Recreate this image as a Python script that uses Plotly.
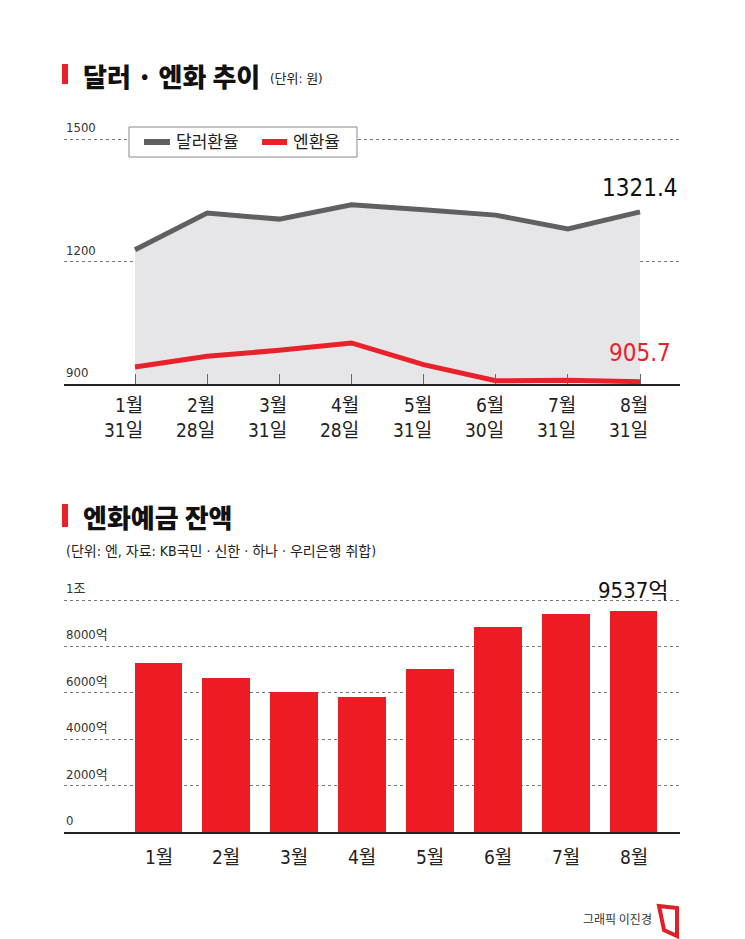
import plotly.graph_objects as go

# ---------------- data ----------------
months_top = ["1월<br>31일", "2월<br>28일", "3월<br>31일", "4월<br>28일",
              "5월<br>31일", "6월<br>30일", "7월<br>31일", "8월<br>31일"]
usd_krw = [1228.6, 1318.5, 1303.8, 1339.0, 1326.7, 1313.6, 1280.0, 1321.4]
jpy_krw = [941.7, 967.9, 982.6, 1000.6, 947.4, 908.0, 909.0, 905.7]

months_bottom = ["1월", "2월", "3월", "4월", "5월", "6월", "7월", "8월"]
yen_deposit = [7270, 6620, 6034, 5806, 7013, 8850, 9410, 9537]  # 억 엔

top_ticks = [900, 1200, 1500]
top_tick_text = ["900", "1200", "1500"]
bot_ticks = [0, 2000, 4000, 6000, 8000, 10000]
bot_tick_text = ["0", "2000억", "4000억", "6000억", "8000억", "1조"]

# ---------------- helpers ----------------
OFF = 8  # page body margin
W, H = 745 - OFF, 939 - OFF
def px(x): return (x - OFF) / W
def py(y): return 1 - (y - OFF) / H

NARROW = "DejaVu Sans Condensed, Noto Sans CJK KR, sans-serif"
KR = "Noto Sans CJK KR, sans-serif"
RED = "#e8212a"
GRAY = "#606060"

xt = list(range(len(usd_krw)))
xb = list(range(len(yen_deposit)))

fig = go.Figure()

fig.add_trace(go.Scatter(x=xt, y=usd_krw, mode="lines", line=dict(width=0),
                         fill="tozeroy", fillcolor="#e6e6e9", hoverinfo="skip",
                         showlegend=False, xaxis="x", yaxis="y"))
fig.add_trace(go.Scatter(x=xt, y=usd_krw, mode="lines", name="달러환율",
                         line=dict(color=GRAY, width=5), showlegend=False,
                         xaxis="x", yaxis="y"))
fig.add_trace(go.Scatter(x=xt, y=jpy_krw, mode="lines", name="엔환율",
                         line=dict(color=RED, width=5), showlegend=False,
                         xaxis="x", yaxis="y"))

fig.add_trace(go.Bar(x=xb, y=yen_deposit, marker=dict(color="#ed1c24", line=dict(width=0)),
                     width=0.707, showlegend=False, xaxis="x2", yaxis="y2"))

k_top = (384 - 139) / 600.0
top_range = [900, 1520]
top_dom = [py(384), py(384 - (top_range[1] - 900) * k_top)]
k_bot = (832 - 600) / 10000.0
bot_range = [0, 10300]
bot_dom = [py(832), py(832 - bot_range[1] * k_bot)]

x_left, x_right = 64, 680
sp_t = (640 - 135) / 7.0
sp_b = (633.5 - 158.5) / 7.0

fig.update_layout(
    width=W, height=H, margin=dict(l=0, r=0, t=0, b=0),
    paper_bgcolor="white", plot_bgcolor="rgba(0,0,0,0)",
    bargap=0,
    xaxis=dict(domain=[px(x_left), px(x_right)],
               range=[-(135 - x_left) / sp_t, 7 + (x_right - 640) / sp_t],
               showgrid=False, zeroline=False, showline=True, linecolor="#222", linewidth=1.5,
               ticks="inside", ticklen=10, tickcolor="#666", tickwidth=1,
               tickvals=xt, showticklabels=False, anchor="y"),
    yaxis=dict(domain=top_dom, range=top_range, tickvals=[1200, 1500],
               showgrid=True, gridcolor="#777", griddash="dot", gridwidth=1,
               zeroline=False, showticklabels=False, showline=False, anchor="x"),
    xaxis2=dict(domain=[px(x_left), px(x_right)],
                range=[-(158.5 - x_left) / sp_b, 7 + (x_right - 633.5) / sp_b],
                showgrid=False, zeroline=False, showline=True, linecolor="#222", linewidth=1.5,
                ticks="", tickvals=xb, showticklabels=False, anchor="y2"),
    yaxis2=dict(domain=bot_dom, range=bot_range, tickvals=bot_ticks[1:],
                showgrid=True, gridcolor="#777", griddash="dot", gridwidth=1,
                zeroline=False, showticklabels=False, showline=False, anchor="x2"),
)

ann = []
shapes = []

# ---- titles ----
shapes.append(dict(type="rect", xref="paper", yref="paper", x0=px(62), x1=px(68),
                   y0=py(84), y1=py(64), fillcolor=RED, line=dict(width=0)))
ann.append(dict(xref="paper", yref="paper", x=px(81), y=py(75), xanchor="left", yanchor="middle",
                text="달러 · 엔화 추이", showarrow=False,
                font=dict(family=KR, size=26, color="#111", weight=900)))
ann.append(dict(xref="paper", yref="paper", x=px(268), y=py(79), xanchor="left", yanchor="middle",
                text="(단위: 원)", showarrow=False, font=dict(family=NARROW, size=13, color="#222")))

shapes.append(dict(type="rect", xref="paper", yref="paper", x0=px(62), x1=px(68),
                   y0=py(527), y1=py(504), fillcolor=RED, line=dict(width=0)))
ann.append(dict(xref="paper", yref="paper", x=px(81), y=py(516), xanchor="left", yanchor="middle",
                text="엔화예금 잔액", showarrow=False,
                font=dict(family=KR, size=26, color="#111", weight=900)))
ann.append(dict(xref="paper", yref="paper", x=px(64), y=py(551), xanchor="left", yanchor="middle",
                text="(단위: 엔, 자료: KB국민 · 신한 · 하나 · 우리은행 취합)", showarrow=False,
                font=dict(family=NARROW, size=14, color="#222")))

# ---- y labels ----
for v, t in zip(top_ticks, top_tick_text):
    ann.append(dict(xref="paper", yref="y", x=px(64), y=v, xanchor="left", yanchor="bottom",
                    yshift=2, text=t, showarrow=False,
                    font=dict(family=NARROW, size=13, color="#333")))
for v, t in zip(bot_ticks, bot_tick_text):
    ann.append(dict(xref="paper", yref="y2", x=px(64), y=v, xanchor="left", yanchor="bottom",
                    yshift=2, text=t, showarrow=False,
                    font=dict(family=NARROW, size=13, color="#333")))

# ---- x labels ----
for i, t in enumerate(months_top):
    ann.append(dict(xref="x", yref="paper", x=xt[i], y=py(392), xanchor="right", yanchor="top",
                    xshift=10, align="right", text=t, showarrow=False,
                    font=dict(family=NARROW, size=19, color="#222")))
for i, t in enumerate(months_bottom):
    ann.append(dict(xref="x2", yref="paper", x=xb[i], y=py(857), xanchor="center", yanchor="middle",
                    text=t, showarrow=False, font=dict(family=NARROW, size=19, color="#222")))

# ---- value labels ----
ann.append(dict(xref="x", yref="y", x=xt[-1], y=usd_krw[-1], xanchor="center", yanchor="bottom",
                yshift=8, text=f"{usd_krw[-1]:.1f}", showarrow=False,
                font=dict(family=NARROW, size=24, color="#111")))
ann.append(dict(xref="x", yref="y", x=xt[-1], y=jpy_krw[-1], xanchor="center", yanchor="bottom",
                yshift=13, text=f"{jpy_krw[-1]:.1f}", showarrow=False,
                font=dict(family=NARROW, size=24, color=RED)))
ann.append(dict(xref="x2", yref="y2", x=xb[-1], y=yen_deposit[-1], xanchor="center", yanchor="bottom",
                yshift=6, text=f"{yen_deposit[-1]}억", showarrow=False,
                font=dict(family=NARROW, size=22, color="#111")))

# ---- legend (custom box) ----
shapes.append(dict(type="rect", xref="paper", yref="paper", x0=px(129), x1=px(357),
                   y0=py(157), y1=py(127), fillcolor="white", line=dict(color="#888", width=1)))
shapes.append(dict(type="line", xref="paper", yref="paper", x0=px(144), x1=px(170),
                   y0=py(142), y1=py(142), line=dict(color=GRAY, width=6)))
shapes.append(dict(type="line", xref="paper", yref="paper", x0=px(262), x1=px(287),
                   y0=py(142), y1=py(142), line=dict(color=RED, width=6)))
ann.append(dict(xref="paper", yref="paper", x=px(174), y=py(142), xanchor="left", yanchor="middle",
                text="달러환율", showarrow=False, font=dict(family=NARROW, size=17, color="#222")))
ann.append(dict(xref="paper", yref="paper", x=px(291), y=py(142), xanchor="left", yanchor="middle",
                text="엔환율", showarrow=False, font=dict(family=NARROW, size=17, color="#222")))

# ---- footer ----
ann.append(dict(xref="paper", yref="paper", x=px(654), y=py(918), xanchor="right", yanchor="middle",
                text="그래픽 이진경", showarrow=False, font=dict(family=KR, size=12, color="#333")))
shapes.append(dict(type="path", xref="paper", yref="paper",
                   path=f"M {px(659)},{py(906)} L {px(677)},{py(908)} L {px(677)},{py(936)} L {px(664)},{py(930)} Z",
                   line=dict(color="#e02027", width=4), fillcolor="rgba(0,0,0,0)"))

fig.update_layout(annotations=ann, shapes=shapes)
fig.write_html("out.html")
